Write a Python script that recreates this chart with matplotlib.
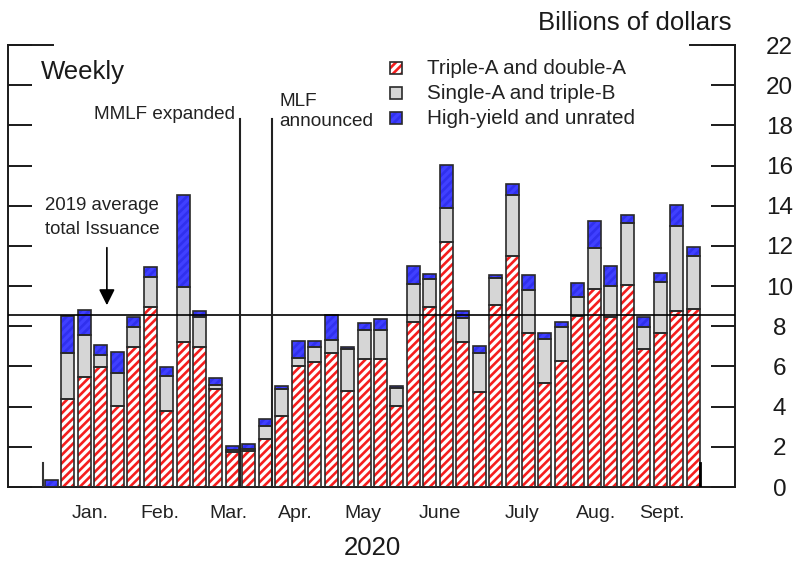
import numpy as np
import matplotlib.pyplot as plt
from matplotlib.patches import Rectangle

plt.rcParams['font.family'] = ['Liberation Sans', 'DejaVu Sans']
plt.rcParams['hatch.linewidth'] = 1.9

# weekly issuance, billions of dollars (first bar = last partial week of 2019)
aa_vals = [0.0, 4.36, 5.46, 5.96, 4.05, 6.95, 8.94, 3.78, 7.23, 6.95,
           4.86, 1.76, 1.80, 2.37, 3.55, 6.04, 6.24, 6.65, 4.78, 6.36,
           6.36, 4.05, 8.23, 8.94, 12.21, 7.23, 4.75, 9.06, 11.51, 7.65,
           5.16, 6.27, 8.51, 9.84, 8.48, 10.05, 6.87, 7.68, 8.76, 8.86]
bbb_vals = [0.0, 2.30, 2.10, 0.60, 1.60, 1.00, 1.50, 1.76, 2.70, 1.50,
            0.20, 0.10, 0.10, 0.68, 1.31, 0.40, 0.71, 0.67, 2.10, 1.45,
            1.45, 0.90, 1.87, 1.40, 1.70, 1.17, 1.90, 1.36, 3.00, 2.16,
            2.19, 1.68, 0.93, 2.07, 1.54, 3.07, 1.08, 2.54, 4.25, 2.65]
hy_vals = [0.35, 1.83, 1.27, 0.50, 1.08, 0.53, 0.50, 0.42, 4.60, 0.30,
           0.38, 0.20, 0.25, 0.32, 0.18, 0.83, 0.32, 1.24, 0.10, 0.34,
           0.54, 0.10, 0.92, 0.26, 2.10, 0.36, 0.38, 0.13, 0.57, 0.75,
           0.30, 0.28, 0.70, 1.33, 1.00, 0.42, 0.53, 0.45, 1.03, 0.42]
series_names = ['Triple-A and double-A', 'Single-A and triple-B', 'High-yield and unrated']

months = ['Jan.', 'Feb.', 'Mar.', 'Apr.', 'May', 'June', 'July', 'Aug.', 'Sept.']
month_pos = [2.34, 6.60, 10.73, 14.80, 18.94, 23.62, 28.60, 33.10, 37.11]

avg_2019 = 8.55
mmlf_week = 11.49
mlf_week = 13.43

fig = plt.figure(figsize=(7.95, 5.61), dpi=100)
ax = fig.add_axes([8 / 795, 1 - 487 / 561, 727 / 795, 442 / 561])

x = np.arange(len(aa_vals))
aa = np.array(aa_vals)
bbb = np.array(bbb_vals)
hy = np.array(hy_vals)
w = 0.79
edge = '#2a2a2a'
red = '#f51e1e'
blue = '#4040ff'
blue_h = '#3030ee'

# hatched fills first, outlines on top
ax.bar(x, aa, w, color='white', edgecolor=red, hatch='////', linewidth=0, zorder=2)
ax.bar(x, bbb, w, bottom=aa, color='#d6d6d6', linewidth=0, zorder=2)
ax.bar(x, hy, w, bottom=aa + bbb, color=blue, edgecolor=blue_h, hatch='////', linewidth=0, zorder=2)
for vals, bot in [(aa, 0), (bbb, aa), (hy, aa + bbb)]:
    ax.bar(x, vals, w, bottom=bot, color='none', edgecolor=edge, linewidth=1.2, zorder=3)

# reference lines
ax.axhline(avg_2019, color='black', lw=1.2, zorder=4)
ax.plot([mmlf_week, mmlf_week], [0, 18.3], color='#222222', lw=1.5, zorder=4)
ax.plot([mlf_week, mlf_week], [0, 18.3], color='#222222', lw=1.5, zorder=4)
ax.plot([-0.52, -0.52], [0, 1.2], color='#333333', lw=1.5, zorder=4)
ax.plot([39.42, 39.42], [0, 1.2], color='black', lw=2, zorder=4)

ax.set_xlim(-2.64, 41.55)
ax.set_ylim(0, 22)

# frame
for s in ['left', 'right', 'bottom']:
    ax.spines[s].set_linewidth(1.4)
    ax.spines[s].set_color('#1a1a1a')
ax.spines['top'].set_visible(False)
ax.plot([0, 45 / 727], [1, 1], transform=ax.transAxes, color='#1a1a1a', lw=1.4, clip_on=False)
ax.plot([682 / 727, 1], [1, 1], transform=ax.transAxes, color='#1a1a1a', lw=1.4, clip_on=False)

ax.set_yticks(np.arange(0, 23, 2))
ax.tick_params(axis='y', left=True, right=True, labelleft=False, labelright=True,
               direction='in', length=17, width=1.4, color='#1a1a1a',
               labelsize=17.5, pad=32, labelcolor='#1a1a1a')
for lab in ax.get_yticklabels():
    lab.set_horizontalalignment('center')

ax.set_xticks(month_pos)
ax.set_xticklabels(months)
ax.tick_params(axis='x', length=0, labelsize=14, pad=13, labelcolor='#222222')

# text annotations
ax.text(-0.62, 20.66, 'Weekly', fontsize=18.5, va='center', ha='left', color='#1a1a1a')
ax.text(11.15, 18.52, 'MMLF expanded', fontsize=13.6, va='center', ha='right', color='#222222')
ax.text(13.85, 19.21, 'MLF', fontsize=13.7, va='center', ha='left', color='#222222')
ax.text(13.85, 18.18, 'announced', fontsize=13.7, va='center', ha='left', color='#222222')
ax.text(3.07, 13.99, '2019 average', fontsize=13.4, va='center', ha='center', color='#222222')
ax.text(3.07, 12.84, 'total Issuance', fontsize=13.4, va='center', ha='center', color='#222222')
ax.annotate('', xy=(3.37, 8.91), xytext=(3.37, 12.05),
            arrowprops=dict(arrowstyle='-|>', color='black', lw=1.2, mutation_scale=24))

# legend drawn by hand
leg_y = [20.84, 19.60, 18.35]
leg_style = [dict(facecolor='white', edgecolor=red, hatch='////'),
             dict(facecolor='#d6d6d6', edgecolor='#d6d6d6'),
             dict(facecolor=blue, edgecolor=blue_h, hatch='////')]
for name, yy, st in zip(series_names, leg_y, leg_style):
    ax.add_patch(Rectangle((20.58, yy - 0.3), 0.73, 0.6, linewidth=0, zorder=5, **st))
    ax.add_patch(Rectangle((20.58, yy - 0.3), 0.73, 0.6, facecolor='none',
                           edgecolor=edge, linewidth=1.2, zorder=6))
    ax.text(22.81, yy, name, fontsize=14.9, va='center', ha='left', color='#222222')

fig.text(731.7 / 795, 1 - 22.7 / 561, 'Billions of dollars', fontsize=18.5,
         ha='right', va='center', color='#1a1a1a')
fig.text(372 / 795, 1 - 548 / 561, '2020', fontsize=18.5, ha='center', va='center', color='#1a1a1a')

fig.savefig('out.png', dpi=100)
